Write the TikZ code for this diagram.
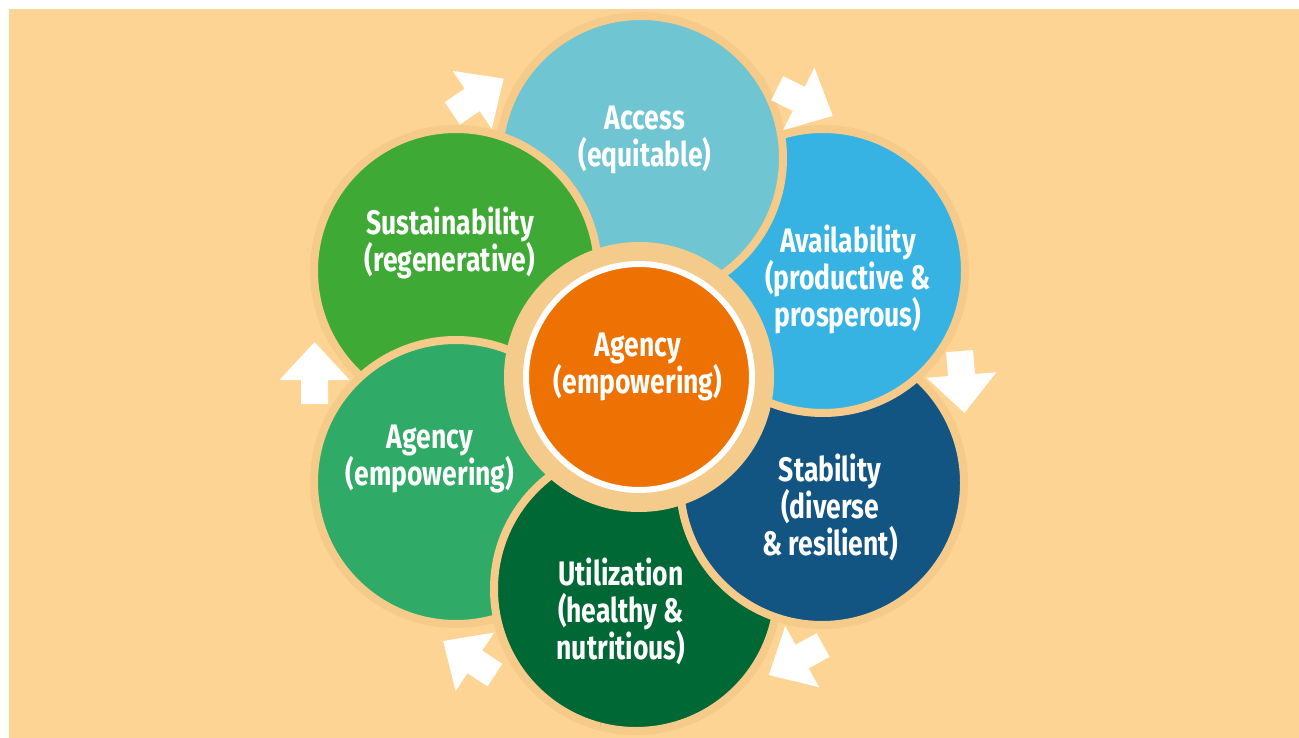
\documentclass[tikz,border=0pt]{standalone}
\usepackage{fontspec}
\newfontfamily\lblfont{Fira Sans}[FakeStretch=0.78]
\definecolor{bg}{RGB}{253,212,147}
\definecolor{rim}{RGB}{246,203,138}
\definecolor{ring}{RGB}{245,203,139}
\definecolor{cAccess}{RGB}{111,197,209}
\definecolor{cAvail}{RGB}{54,179,227}
\definecolor{cStab}{RGB}{18,84,130}
\definecolor{cUtil}{RGB}{0,104,52}
\definecolor{cAgency}{RGB}{48,171,103}
\definecolor{cSust}{RGB}{62,170,53}
\definecolor{cCenter}{RGB}{238,114,3}
\tikzset{
  bubble/.style={circle, inner sep=0pt, minimum size=284pt, draw=rim, line width=8pt},
  lbl/.style={text=white, align=center, font=\lblfont\bfseries\fontsize{34}{37}\selectfont},
  barrow/.pic={\fill[white] (31,0) -- (-7,35) -- (-7,13.5) -- (-31,13.5) -- (-31,-13.5) -- (-7,-13.5) -- (-7,-35) -- cycle;}
}
\begin{document}
\begin{tikzpicture}[x=1pt,y=-1pt]
\useasboundingbox (0,0) rectangle (1299,738);
\fill[white] (0,0) rectangle (1299,738);
\fill[bg] (9,9) rectangle (1299,738);
% outer circles (each overlaps the next one clockwise)
\node[bubble, fill=cUtil] (util) at (636,589) {};
\node[bubble, fill=cStab] (stab) at (822,483) {};
\node[bubble, fill=cAvail] (avail) at (823,271) {};
\node[bubble, fill=cAccess] (access) at (641,158) {};
\node[bubble, fill=cSust] (sust) at (456,271) {};
\node[bubble, fill=cAgency] (agency) at (456,482) {};
\begin{scope}
  \clip (300,420) rectangle (600,738);
  \node[bubble, fill=cUtil] (utiltop) at (636,589) {};
\end{scope}
% centre
\fill[ring] (639,377) circle (135);
\node[circle, inner sep=0pt, minimum size=226pt, fill=cCenter, draw=white, line width=6pt] (centre) at (639,377) {};
% labels
\node[lbl] (taccess) at (645,140) {Access\\(equitable)};
\node[lbl] (tavail) at (848,279) {Availability\\(productive \&\\prosperous)};
\node[lbl] (tstab) at (830,507) {Stability\\(diverse\\\& resilient)};
\node[lbl] (tutil) at (621,611) {Utilization\\(healthy \&\\nutritious)};
\node[lbl] (tagency) at (430,459) {Agency\\(empowering)};
\node[lbl] (tsust) at (450,243) {Sustainability\\(regenerative)};
\node[lbl] (tcentre) at (638,367) {Agency\\(empowering)};
% arrows
\path (478,96) pic[rotate=34] {barrow};
\path (805,102) pic[rotate=-26.6] {barrow};
\path (962,382) pic[rotate=-85.5] {barrow};
\path (796,660) pic[rotate=-151] {barrow};
\path (469,658) pic[rotate=146.6] {barrow};
\path (314.5,373) pic[rotate=90] {barrow};
\end{tikzpicture}
\end{document}
